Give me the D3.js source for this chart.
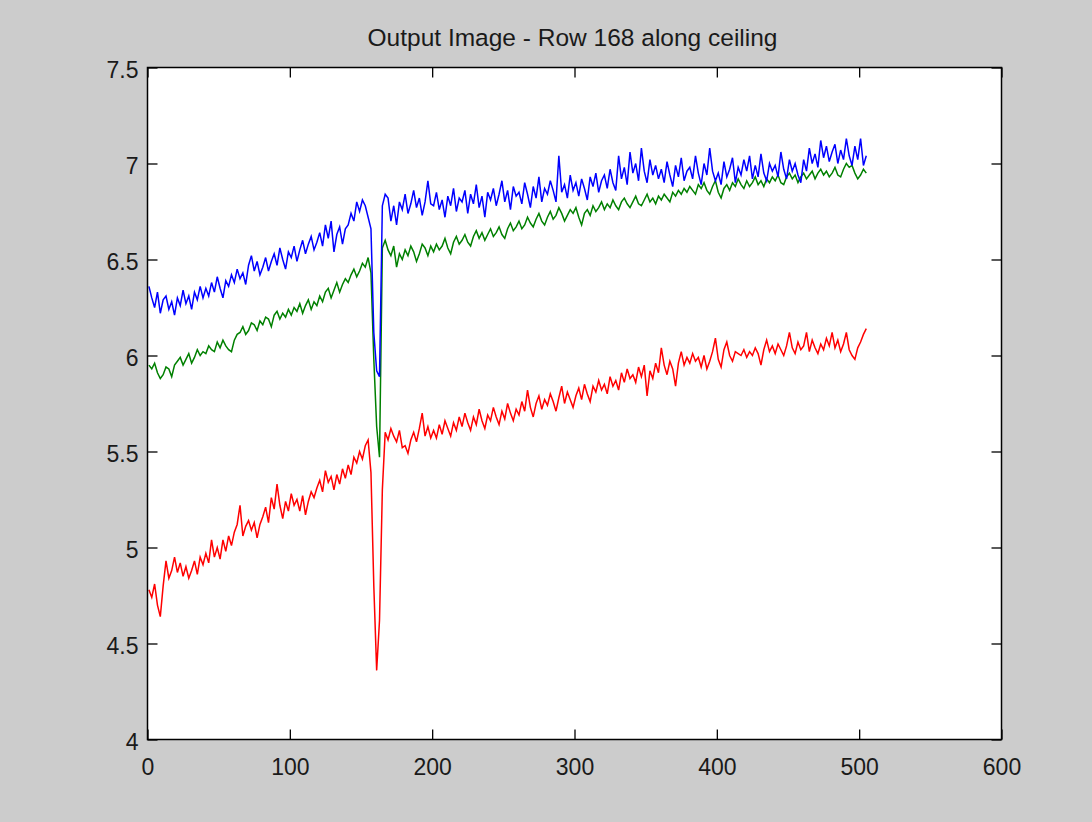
<!DOCTYPE html>
<html><head><meta charset="utf-8">
<script src="https://cdn.jsdelivr.net/npm/d3@7"></script>
<style>
html,body{margin:0;padding:0;background:#cccccc;}
svg{display:block;}
</style></head><body>
<svg id="chart" width="1092" height="822"></svg>
<script>
const titleText = "Output Image - Row 168 along ceiling";
const xTicks = [0, 100, 200, 300, 400, 500, 600];
const yTicks = [4, 4.5, 5, 5.5, 6, 6.5, 7, 7.5];
// pixel columns sampled along the row (every 2nd column, 1..505)
const sampleX = d3.range(1, 506, 2);

const redValues = [
4.78,4.74,4.81,4.70,4.64,4.80,4.93,4.84,4.88,4.95,
4.87,4.92,4.85,4.90,4.84,4.88,4.93,4.86,4.95,4.91,
4.97,4.92,5.04,4.95,5.00,4.94,5.04,4.98,5.06,5.01,
5.08,5.12,5.22,5.06,5.11,5.14,5.09,5.13,5.05,5.12,
5.16,5.21,5.13,5.26,5.20,5.33,5.22,5.15,5.24,5.19,
5.28,5.22,5.25,5.19,5.27,5.17,5.24,5.29,5.26,5.31,
5.35,5.29,5.40,5.34,5.37,5.30,5.38,5.33,5.41,5.36,
5.43,5.38,5.47,5.44,5.50,5.46,5.53,5.56,5.39,4.80,
4.36,4.62,5.30,5.60,5.56,5.62,5.58,5.55,5.61,5.52,
5.53,5.49,5.56,5.60,5.55,5.62,5.70,5.58,5.63,5.57,
5.61,5.57,5.64,5.59,5.66,5.62,5.58,5.65,5.61,5.68,
5.63,5.70,5.65,5.61,5.68,5.64,5.72,5.66,5.62,5.69,
5.66,5.73,5.68,5.64,5.71,5.67,5.75,5.70,5.66,5.72,
5.69,5.76,5.71,5.82,5.73,5.68,5.75,5.79,5.72,5.77,
5.74,5.80,5.76,5.71,5.78,5.84,5.75,5.81,5.77,5.73,
5.79,5.83,5.77,5.85,5.80,5.76,5.84,5.81,5.87,5.82,
5.85,5.80,5.89,5.84,5.87,5.82,5.91,5.86,5.93,5.88,
5.90,5.86,5.94,5.89,5.95,5.79,5.92,5.88,5.96,5.91,
6.04,5.95,5.90,5.97,5.93,5.84,5.96,6.02,5.95,5.99,
5.96,6.01,5.97,5.99,5.94,6.00,5.93,5.97,6.02,6.09,
5.98,5.94,6.03,6.07,6.00,5.97,6.02,6.01,6.00,6.03,
5.99,6.02,6.00,6.04,6.01,5.95,6.03,6.08,6.02,6.05,
6.01,6.06,6.03,6.00,6.05,6.12,6.04,6.01,6.07,6.03,
6.05,6.12,6.02,6.08,6.04,6.01,6.06,6.03,6.09,6.05,
6.12,6.04,6.08,6.02,6.06,6.12,6.03,6.00,5.98,6.04,
6.07,6.11,6.14
];

const greenValues = [
5.95,5.93,5.96,5.91,5.88,5.90,5.94,5.93,5.89,5.95,
5.97,5.99,5.95,5.98,6.01,5.96,5.99,6.03,6.00,6.02,
6.01,6.05,6.03,6.02,6.07,6.04,6.08,6.05,6.03,6.02,
6.08,6.11,6.12,6.15,6.11,6.13,6.17,6.16,6.13,6.18,
6.16,6.20,6.19,6.15,6.21,6.23,6.19,6.22,6.20,6.24,
6.21,6.25,6.23,6.27,6.22,6.26,6.29,6.24,6.28,6.26,
6.31,6.28,6.33,6.35,6.30,6.34,6.38,6.33,6.37,6.40,
6.38,6.42,6.45,6.41,6.44,6.48,6.46,6.51,6.43,5.98,
5.63,5.47,6.56,6.60,6.55,6.52,6.57,6.46,6.53,6.50,
6.55,6.52,6.57,6.54,6.49,6.53,6.58,6.56,6.52,6.57,
6.54,6.58,6.55,6.57,6.61,6.56,6.53,6.59,6.62,6.58,
6.60,6.63,6.59,6.57,6.62,6.65,6.61,6.64,6.60,6.63,
6.66,6.62,6.64,6.67,6.63,6.61,6.66,6.69,6.65,6.67,
6.70,6.66,6.68,6.72,6.69,6.67,6.71,6.74,6.70,6.68,
6.72,6.75,6.71,6.73,6.77,6.74,6.70,6.73,6.76,6.74,
6.77,6.72,6.68,6.74,6.76,6.73,6.78,6.75,6.77,6.80,
6.76,6.79,6.77,6.81,6.78,6.76,6.80,6.82,6.79,6.77,
6.80,6.83,6.79,6.78,6.81,6.84,6.80,6.82,6.79,6.83,
6.81,6.84,6.82,6.80,6.85,6.83,6.86,6.84,6.87,6.85,
6.88,6.86,6.84,6.89,6.87,6.90,6.86,6.84,6.88,6.91,
6.85,6.82,6.87,6.89,6.86,6.90,6.88,6.92,6.89,6.87,
6.91,6.88,6.90,6.93,6.89,6.91,6.88,6.92,6.90,6.93,
6.91,6.94,6.90,6.89,6.93,6.95,6.92,6.94,6.90,6.93,
6.95,6.92,6.94,6.96,6.92,6.95,6.97,6.94,6.96,6.93,
6.95,6.98,6.94,6.93,6.97,7.00,6.98,6.99,6.95,6.92,
6.94,6.97,6.95
];

const blueValues = [
6.36,6.30,6.25,6.33,6.22,6.29,6.31,6.24,6.28,6.21,
6.30,6.26,6.34,6.27,6.31,6.24,6.33,6.29,6.36,6.30,
6.35,6.31,6.38,6.33,6.41,6.35,6.30,6.39,6.36,6.42,
6.38,6.45,6.40,6.43,6.37,6.47,6.52,6.44,6.49,6.42,
6.46,6.51,6.44,6.49,6.53,6.47,6.56,6.50,6.45,6.54,
6.51,6.57,6.49,6.55,6.60,6.53,6.58,6.62,6.55,6.59,
6.64,6.57,6.68,6.61,6.70,6.54,6.63,6.67,6.58,6.66,
6.68,6.74,6.70,6.80,6.75,6.81,6.78,6.72,6.66,6.12,
5.92,5.89,6.78,6.84,6.82,6.70,6.78,6.68,6.80,6.76,
6.84,6.74,6.79,6.86,6.77,6.82,6.73,6.80,6.91,6.79,
6.78,6.85,6.76,6.81,6.72,6.83,6.78,6.87,6.75,6.82,
6.80,6.86,6.74,6.84,6.79,6.89,6.77,6.83,6.72,6.85,
6.81,6.87,6.78,6.84,6.91,6.80,6.86,6.76,6.88,6.83,
6.85,6.79,6.90,6.84,6.77,6.88,6.82,6.93,6.80,6.87,
6.84,6.91,6.86,6.80,7.04,6.85,6.89,6.82,6.94,6.86,
6.90,6.83,6.92,6.87,6.81,6.93,6.88,6.95,6.85,6.91,
6.94,6.87,6.97,6.90,6.86,7.04,6.92,6.98,6.89,7.06,
6.95,7.00,6.91,7.08,6.96,6.90,7.02,6.94,6.99,6.92,
6.97,6.90,7.01,6.94,6.88,6.99,6.93,7.03,6.91,6.96,
6.98,6.92,7.04,6.95,6.89,7.00,6.94,7.08,6.96,6.91,
6.95,6.89,7.01,6.93,6.97,7.03,6.90,6.98,6.94,7.02,
6.96,7.04,6.92,6.99,6.93,7.05,6.95,6.91,7.00,6.96,
6.99,6.93,7.06,6.97,6.92,7.02,6.96,7.00,6.94,6.90,
7.02,6.96,7.08,7.00,7.05,6.98,7.12,7.03,7.09,7.01,
7.06,7.10,7.00,7.07,7.02,7.13,7.04,6.99,7.09,7.02,
7.13,6.99,7.04
];

const seriesNames = ["red", "green", "blue"];
const seriesColors = ["#ff0000", "#008000", "#0000ff"];

const W = 1092, H = 822;
const box = {left: 147.5, right: 1001.5, top: 67.5, bottom: 739.5};
const svg = d3.select("#chart");

const x = d3.scaleLinear().domain([0, 600]).range([box.left, box.right]);
const y = d3.scaleLinear().domain([4, 7.5]).range([box.bottom, box.top]);

svg.append("rect").attr("width", W).attr("height", H).attr("fill", "#cccccc");
svg.append("rect")
  .attr("x", box.left).attr("y", box.top)
  .attr("width", box.right - box.left).attr("height", box.bottom - box.top)
  .attr("fill", "#ffffff");

const allSeries = [redValues, greenValues, blueValues];
const line = d3.line().x((d, i) => x(sampleX[i])).y(d => y(d));

svg.append("g").selectAll("path")
  .data(allSeries)
  .join("path")
  .attr("d", d => line(d))
  .attr("fill", "none")
  .attr("stroke", (d, i) => seriesColors[i])
  .attr("stroke-width", 1.5)
  .attr("stroke-linejoin", "miter");

const fontFam = "'Liberation Sans', Arial, Helvetica, sans-serif";
const fmt = d => String(d);

function styleAxis(g) {
  g.select(".domain").remove();
  g.selectAll(".tick line").attr("stroke", "#000").attr("stroke-width", 1.3);
  g.selectAll(".tick text").attr("fill", "#1a1a1a").style("font-family", fontFam).style("font-size", "23px");
}

svg.append("g").attr("transform", `translate(0,${box.bottom})`)
  .call(d3.axisBottom(x).tickValues(xTicks).tickFormat(fmt).tickSize(-10).tickSizeOuter(0).tickPadding(19))
  .call(styleAxis);
svg.append("g").attr("transform", `translate(0,${box.top})`)
  .call(d3.axisTop(x).tickValues(xTicks).tickFormat("").tickSize(-10).tickSizeOuter(0))
  .call(styleAxis);
svg.append("g").attr("transform", `translate(${box.left},0)`)
  .call(d3.axisLeft(y).tickValues(yTicks).tickFormat(fmt).tickSize(-10).tickSizeOuter(0).tickPadding(9))
  .call(styleAxis)
  .call(g => g.selectAll(".tick text").attr("dy", "0.45em"));
svg.append("g").attr("transform", `translate(${box.right},0)`)
  .call(d3.axisRight(y).tickValues(yTicks).tickFormat("").tickSize(-10).tickSizeOuter(0))
  .call(styleAxis);

svg.append("rect")
  .attr("x", box.left).attr("y", box.top)
  .attr("width", box.right - box.left).attr("height", box.bottom - box.top)
  .attr("fill", "none").attr("stroke", "#000").attr("stroke-width", 1.5);

svg.append("text")
  .attr("x", (box.left + box.right) / 2 - 2).attr("y", 45.5)
  .attr("text-anchor", "middle")
  .attr("fill", "#1a1a1a")
  .style("font-family", fontFam).style("font-size", "24.5px")
  .text(titleText);
</script>
</body></html>
